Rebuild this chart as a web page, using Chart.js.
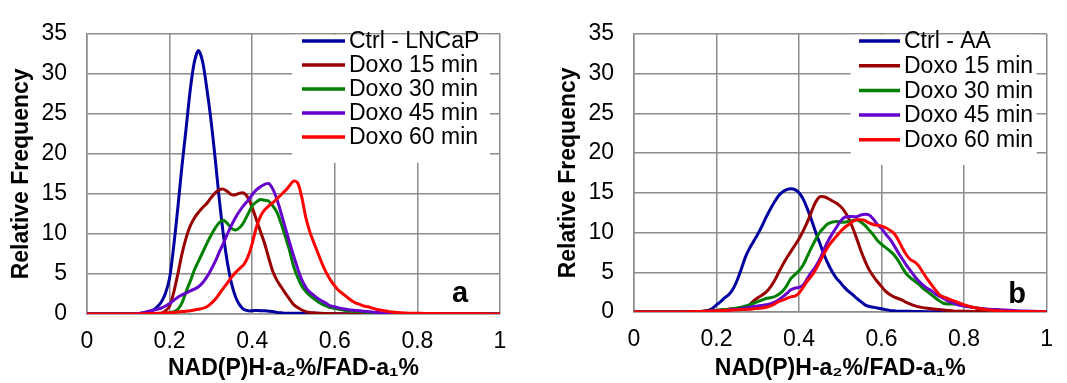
<!DOCTYPE html>
<html>
<head>
<meta charset="utf-8">
<script src="https://cdn.jsdelivr.net/npm/chart.js@4.4.1/dist/chart.umd.min.js"></script>
<style>
  html, body { margin: 0; padding: 0; background: #fff; }
  #wrap { position: relative; width: 1067px; height: 383px; }
  #boxA { position: absolute; left: 0; top: 0; width: 533px; height: 383px; }
  #boxB { position: absolute; left: 533px; top: 0; width: 534px; height: 383px; }
</style>
</head>
<body>
<div id="wrap">
  <div id="boxA"><canvas id="chartA" width="533" height="383"></canvas></div>
  <div id="boxB"><canvas id="chartB" width="534" height="383"></canvas></div>
</div>
<script>
// x positions of the histogram (NAD(P)H-a2%/FAD-a1% ratio)
var ratio = [0, 0.05,
  0.10, 0.11, 0.12, 0.13, 0.14, 0.15, 0.16, 0.17, 0.18, 0.19,
  0.20, 0.21, 0.22, 0.23, 0.24, 0.25, 0.26, 0.27, 0.28, 0.29,
  0.30, 0.31, 0.32, 0.33, 0.34, 0.35, 0.36, 0.37, 0.38, 0.39,
  0.40, 0.41, 0.42, 0.43, 0.44, 0.45, 0.46, 0.47, 0.48, 0.49,
  0.50, 0.51, 0.52, 0.53, 0.54, 0.55, 0.56, 0.57, 0.58, 0.59,
  0.60, 0.61, 0.62, 0.63, 0.64, 0.65, 0.66, 0.67, 0.68, 0.69,
  0.70, 0.71, 0.72, 0.73, 0.74, 0.75, 0.76, 0.77, 0.78, 0.79,
  0.80, 0.81, 0.82, 0.83, 0.84, 0.85, 0.86, 0.87, 0.88, 0.89,
  0.90, 0.95, 1.00];

var labelsA = ["Ctrl - LNCaP", "Doxo 15 min", "Doxo 30 min", "Doxo 45 min", "Doxo 60 min"];
var labelsB = ["Ctrl - AA", "Doxo 15 min", "Doxo 30 min", "Doxo 45 min", "Doxo 60 min"];

// panel a - LNCaP
var aCtrl = [0, 0,
  0, 0, 0.05, 0.1, 0.15, 0.3, 0.5, 0.9, 1.5, 2.6,
  4.5, 8.5, 13.3, 18.5, 23.2, 28.0, 31.5, 32.9, 31.5, 28.2,
  24.3, 19.6, 14.5, 10.0, 6.4, 3.8, 2.1, 1.1, 0.55, 0.4,
  0.4, 0.45, 0.4, 0.4, 0.35, 0.3, 0.2, 0.15, 0.1, 0.1,
  0.1, 0.1, 0.1, 0.1, 0.1, 0.1, 0.08, 0.06, 0.05, 0.05,
  0.04, 0.03, 0.02, 0.02, 0.01, 0, 0, 0, 0, 0,
  0, 0, 0, 0, 0, 0, 0, 0, 0, 0,
  0, 0, 0, 0, 0, 0, 0, 0, 0, 0,
  0, 0, 0];
var aDoxo15 = [0, 0,
  0, 0, 0, 0, 0, 0.02, 0.03, 0.05, 0.1, 0.4,
  1.0, 2.7, 5.0, 7.5, 9.5, 11.0, 12.0, 12.7, 13.3, 13.8,
  14.5, 15.1, 15.5, 15.6, 15.3, 14.9, 14.9, 15.1, 15.1, 14.5,
  13.3, 11.8, 10.3, 8.8, 7.0, 5.3, 4.2, 3.4, 2.6, 1.9,
  1.2, 0.8, 0.5, 0.3, 0.2, 0.15, 0.1, 0.1, 0.05, 0.05,
  0.03, 0.02, 0.01, 0, 0, 0, 0, 0, 0, 0,
  0, 0, 0, 0, 0, 0, 0, 0, 0, 0,
  0, 0, 0, 0, 0, 0, 0, 0, 0, 0,
  0, 0, 0];
var aDoxo30 = [0, 0,
  0, 0, 0, 0, 0, 0, 0.01, 0.02, 0.03, 0.05,
  0.15, 0.3, 0.6, 1.4, 2.8, 4.1, 5.5, 6.6, 7.7, 8.8,
  9.8, 10.7, 11.4, 11.7, 11.3, 10.7, 10.5, 10.8, 11.5, 12.5,
  13.5, 14.0, 14.3, 14.2, 14.1, 13.5, 12.7, 11.3, 9.7, 8.0,
  6.0, 4.6, 3.5, 2.8, 2.3, 1.9, 1.5, 1.2, 1.0, 0.8,
  0.7, 0.6, 0.5, 0.4, 0.35, 0.3, 0.3, 0.25, 0.2, 0.15,
  0.1, 0.08, 0.05, 0.04, 0.03, 0.02, 0.01, 0, 0, 0,
  0, 0, 0, 0, 0, 0, 0, 0, 0, 0,
  0, 0, 0];
var aDoxo45 = [0, 0,
  0, 0.01, 0.05, 0.1, 0.2, 0.35, 0.45, 0.6, 0.75, 1.0,
  1.3, 1.7, 2.1, 2.4, 2.6, 2.9, 3.1, 3.4, 3.9, 4.6,
  5.5, 6.5, 7.7, 8.8, 10.0, 11.1, 12.1, 12.9, 13.6, 14.2,
  14.9, 15.5, 15.9, 16.2, 16.3, 15.6, 14.3, 12.6, 10.8, 9.0,
  7.3, 5.7, 4.3, 3.3, 2.7, 2.3, 1.9, 1.6, 1.3, 1.0,
  0.9, 0.75, 0.65, 0.55, 0.5, 0.45, 0.4, 0.35, 0.3, 0.25,
  0.2, 0.15, 0.1, 0.07, 0.05, 0.03, 0.02, 0.01, 0, 0,
  0, 0, 0, 0, 0, 0, 0, 0, 0, 0,
  0, 0, 0];
var aDoxo60 = [0, 0,
  0, 0, 0.01, 0.02, 0.03, 0.05, 0.06, 0.08, 0.1, 0.12,
  0.15, 0.2, 0.25, 0.3, 0.35, 0.4, 0.5, 0.6, 0.7, 0.9,
  1.3, 1.8, 2.5, 3.2, 3.9, 4.6, 5.2, 5.7, 6.2, 7.2,
  8.8, 10.8, 12.2, 13.0, 13.5, 13.9, 14.4, 14.9, 15.4, 16.0,
  16.6, 16.4, 14.6, 12.0, 10.2, 8.8, 7.5, 6.2, 5.1, 4.2,
  3.5, 2.9, 2.5, 2.1, 1.7, 1.4, 1.2, 1.0, 0.9, 0.75,
  0.6, 0.5, 0.4, 0.3, 0.25, 0.2, 0.15, 0.12, 0.1, 0.1,
  0.1, 0.08, 0.07, 0.06, 0.05, 0.05, 0.04, 0.04, 0.03, 0.03,
  0.03, 0.02, 0];

// panel b - AA
var bCtrl = [0, 0,
  0, 0, 0, 0, 0.01, 0.02, 0.05, 0.1, 0.2, 0.45,
  0.9, 1.3, 1.8, 2.2, 2.9, 4.0, 5.4, 6.9, 8.0, 8.9,
  9.8, 10.8, 11.9, 12.9, 13.8, 14.6, 15.1, 15.4, 15.5, 15.4,
  15.0, 14.2, 13.0, 11.6, 10.1, 8.7, 7.3, 6.1, 5.1, 4.3,
  3.7, 3.1, 2.6, 2.2, 1.7, 1.3, 0.9, 0.7, 0.6, 0.5,
  0.4, 0.3, 0.2, 0.15, 0.1, 0.1, 0.1, 0.08, 0.06, 0.05,
  0.05, 0.04, 0.03, 0.03, 0.02, 0.02, 0.01, 0.01, 0, 0,
  0, 0, 0, 0, 0, 0, 0, 0, 0, 0,
  0, 0, 0];
var bDoxo15 = [0, 0,
  0, 0, 0.01, 0.02, 0.03, 0.05, 0.07, 0.1, 0.12, 0.15,
  0.2, 0.25, 0.3, 0.35, 0.4, 0.45, 0.5, 0.6, 0.9, 1.4,
  1.8, 2.1, 2.5, 3.1, 3.9, 4.9, 5.9, 6.8, 7.6, 8.4,
  9.2, 10.2, 11.3, 12.6, 13.8, 14.5, 14.5, 14.3, 14.0, 13.7,
  13.3, 12.7, 11.8, 10.6, 9.2, 7.7, 6.4, 5.3, 4.5, 3.8,
  3.2, 2.6, 2.2, 1.9, 1.7, 1.5, 1.2, 1.0, 0.8, 0.65,
  0.55, 0.47, 0.4, 0.35, 0.3, 0.25, 0.2, 0.15, 0.1, 0.1,
  0.1, 0.08, 0.07, 0.06, 0.05, 0.05, 0.04, 0.03, 0.02, 0.01,
  0, 0, 0];
var bDoxo30 = [0, 0,
  0, 0, 0.01, 0.02, 0.03, 0.05, 0.06, 0.08, 0.1, 0.15,
  0.2, 0.25, 0.3, 0.35, 0.4, 0.5, 0.6, 0.75, 0.9, 1.1,
  1.3, 1.5, 1.7, 1.8, 1.9, 2.2, 2.6, 3.3, 4.2, 4.7,
  5.2, 5.9, 7.0, 8.1, 9.1, 10.0, 10.6, 11.1, 11.3, 11.4,
  11.3, 11.3, 11.4, 11.5, 11.6, 11.3, 10.9, 10.3, 9.7, 9.0,
  8.5, 8.1, 7.7, 7.2, 6.5, 5.6, 4.8, 4.3, 3.9, 3.5,
  3.0, 2.6, 2.2, 1.8, 1.4, 1.1, 1.0, 1.0, 1.0, 0.9,
  0.8, 0.7, 0.6, 0.5, 0.4, 0.32, 0.25, 0.2, 0.15, 0.12,
  0.1, 0.05, 0];
var bDoxo45 = [0, 0,
  0, 0, 0.01, 0.02, 0.03, 0.05, 0.06, 0.08, 0.1, 0.12,
  0.15, 0.17, 0.2, 0.25, 0.3, 0.35, 0.4, 0.5, 0.6, 0.7,
  0.75, 0.82, 0.9, 1.0, 1.2, 1.5, 1.9, 2.3, 2.8, 3.0,
  3.1, 3.4, 4.2, 5.0, 5.7, 6.6, 7.8, 8.9, 9.8, 10.6,
  11.4, 11.9, 12.0, 12.0, 12.0, 12.2, 12.3, 12.2, 11.7, 11.0,
  10.5, 9.8, 9.2, 8.4, 7.5, 6.7, 5.9, 5.2, 4.5, 3.9,
  3.4, 3.0, 2.7, 2.3, 2.0, 1.7, 1.4, 1.2, 1.0, 0.85,
  0.75, 0.65, 0.6, 0.5, 0.45, 0.4, 0.35, 0.32, 0.3, 0.27,
  0.25, 0.12, 0.05];
var bDoxo60 = [0, 0,
  0, 0, 0.01, 0.02, 0.03, 0.05, 0.06, 0.08, 0.1, 0.12,
  0.15, 0.17, 0.2, 0.22, 0.25, 0.27, 0.3, 0.32, 0.35, 0.4,
  0.45, 0.5, 0.6, 0.75, 1.0, 1.3, 1.5, 1.7, 1.9, 2.0,
  2.4, 3.1, 3.9, 4.5, 5.3, 6.3, 7.3, 8.2, 8.9, 9.5,
  10.1, 10.6, 11.0, 11.4, 11.6, 11.6, 11.5, 11.2, 11.0, 10.9,
  10.8, 10.6, 10.3, 9.9, 9.1, 8.1, 7.2, 6.6, 6.3, 5.8,
  5.0, 4.2, 3.5, 2.8, 2.2, 1.9, 1.7, 1.5, 1.3, 1.1,
  0.9, 0.75, 0.6, 0.5, 0.4, 0.32, 0.25, 0.2, 0.15, 0.12,
  0.1, 0.05, 0.03];

var colors = ['#0000A0', '#990000', '#008000', '#6600CC', '#FF0000'];
var gridColor = '#8c8c8c';
var fontFamily = "'Liberation Sans', Arial, Helvetica, sans-serif";

Chart.defaults.font.family = fontFamily;
Chart.defaults.color = '#000';

function makeDatasets(labels, seriesList) {
  return seriesList.map(function (values, i) {
    return {
      label: labels[i],
      data: ratio.map(function (x, j) { return { x: x, y: values[j] }; }),
      borderColor: colors[i],
      backgroundColor: colors[i],
      borderWidth: 3,
      pointRadius: 0,
      tension: 0.3,
      fill: false,
      order: seriesList.length - i
    };
  });
}

// legend drawn inside the plot on a white box, plus the panel letter
var insideLegend = {
  id: 'insideLegend',
  beforeDatasetsDraw: function (chart, args, opts) {
    var ctx = chart.ctx;
    var area = chart.chartArea;
    ctx.save();
    ctx.fillStyle = '#fff';
    ctx.fillRect(area.right - opts.boxLeft, area.top + 1, opts.boxLeft - opts.boxRight, opts.boxHeight);
    ctx.font = '23px ' + fontFamily;
    ctx.textBaseline = 'middle';
    ctx.textAlign = 'left';
    chart.data.datasets.forEach(function (ds, i) {
      var y = opts.rowTop + i * opts.rowGap;
      ctx.strokeStyle = ds.borderColor;
      ctx.lineWidth = 3.5;
      ctx.beginPath();
      ctx.moveTo(opts.lineStart, y);
      ctx.lineTo(opts.lineEnd, y);
      ctx.stroke();
      ctx.fillStyle = '#000';
      ctx.fillText(ds.label, opts.textStart, y + 1);
    });
    ctx.restore();
  },
  afterDraw: function (chart, args, opts) {
    var ctx = chart.ctx;
    ctx.save();
    ctx.font = 'bold 29px ' + fontFamily;
    ctx.fillStyle = '#000';
    ctx.textAlign = 'center';
    ctx.textBaseline = 'alphabetic';
    ctx.fillText(opts.letter, opts.letterX, opts.letterY);
    ctx.restore();
  }
};

function makeChart(canvasId, labels, seriesList, layout) {
  var ctx = document.getElementById(canvasId).getContext('2d');
  return new Chart(ctx, {
    type: 'line',
    data: { datasets: makeDatasets(labels, seriesList) },
    plugins: [insideLegend],
    options: {
      responsive: false,
      animation: false,
      devicePixelRatio: 1,
      layout: { padding: { top: 21, right: layout.padRight, bottom: 0, left: 0 } },
      plugins: {
        legend: { display: false },
        tooltip: { enabled: false },
        insideLegend: layout.legend
      },
      scales: {
        x: {
          type: 'linear',
          min: 0,
          max: 1,
          afterFit: function (scale) { scale.height = layout.xHeight; },
          ticks: {
            stepSize: 0.2,
            padding: 14,
            font: { size: 23 },
            color: '#000',
            callback: function (v) { return String(+v.toFixed(1)); }
          },
          grid: { color: gridColor, lineWidth: 1.5, drawTicks: false },
          border: { color: gridColor, width: 1.5 },
          title: {
            display: true,
            text: 'NAD(P)H-a\u2082%/FAD-a\u2081%',
            font: { size: 23, weight: 'bold' },
            color: '#000',
            padding: { top: 0, bottom: 1 }
          }
        },
        y: {
          min: 0,
          max: 35,
          afterFit: function (scale) { scale.width = layout.yWidth; },
          ticks: { stepSize: 5, padding: 20, font: { size: 23 }, color: '#000' },
          grid: { color: gridColor, lineWidth: 1.5, drawTicks: false },
          border: { color: gridColor, width: 1.5 },
          title: {
            display: true,
            text: 'Relative Frequency',
            font: { size: 23, weight: 'bold' },
            color: '#000',
            padding: { top: layout.yTitlePad, bottom: 0 }
          }
        }
      }
    }
  });
}

makeChart('chartA', labelsA, [aCtrl, aDoxo15, aDoxo30, aDoxo45, aDoxo60], {
  padRight: 33, xHeight: 69, yWidth: 87, yTitlePad: 8,
  legend: {
    boxLeft: 208, boxRight: 10, boxHeight: 128,
    lineStart: 302, lineEnd: 345, textStart: 349,
    rowTop: 41, rowGap: 24,
    letter: 'a', letterX: 460, letterY: 302
  }
});

makeChart('chartB', labelsB, [bCtrl, bDoxo15, bDoxo30, bDoxo45, bDoxo60], {
  padRight: 18, xHeight: 71, yWidth: 101, yTitlePad: 22,
  legend: {
    boxLeft: 196, boxRight: 10, boxHeight: 130,
    lineStart: 326, lineEnd: 367, textStart: 371,
    rowTop: 41, rowGap: 24.7,
    letter: 'b', letterX: 484, letterY: 303
  }
});
</script>
</body>
</html>
